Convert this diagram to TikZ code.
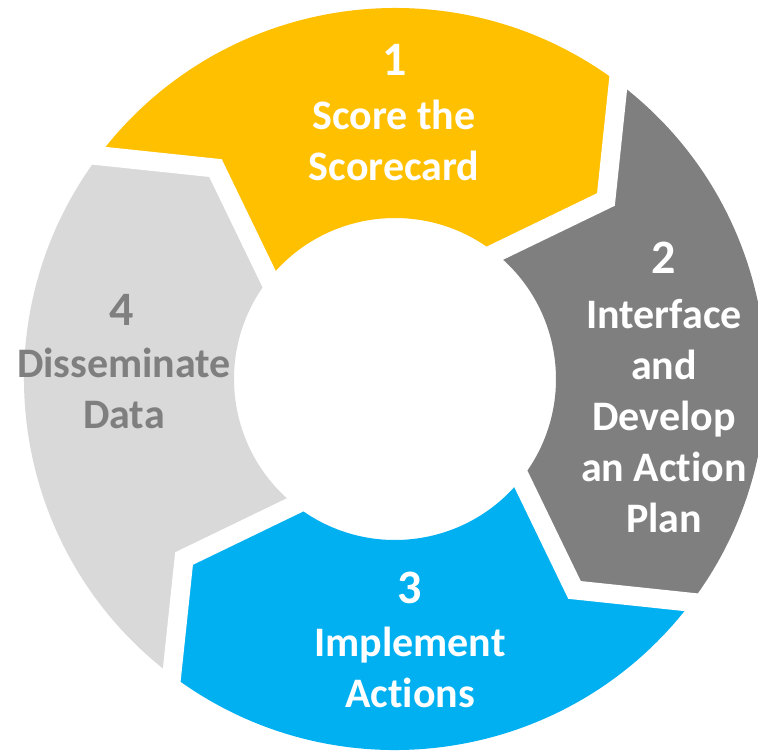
\documentclass[tikz,border=0pt]{standalone}
\usepackage{fontspec}
\setmainfont{Carlito}[RawFeature=-liga]
\usetikzlibrary{calc}
\definecolor{segyellow}{HTML}{FFC000}
\definecolor{segdark}{HTML}{7F7F7F}
\definecolor{segblue}{HTML}{00B0F0}
\definecolor{seglight}{HTML}{D9D9D9}
\begin{document}
\begin{tikzpicture}[x=1pt,y=1pt,
  gapline/.style={draw=white, line width=19pt, line join=miter},
  numlbl/.style={font=\bfseries\fontsize{48}{52}\selectfont, text=white, inner sep=0pt},
  txtlbl/.style={font=\bfseries\fontsize{42}{51}\selectfont, align=center, text=white, inner sep=0pt}]
\clip (0,0) rectangle (758,-750);
\fill[white] (0,0) rectangle (758,-750);
\begin{scope}[shift={(395,-379)}]
  \def\Ro{371}
  \def\Ri{161}
  \def\Rt{277}
  % each ring segment runs clockwise from its notched tail (angle \a) to its pointed head
  \foreach \a/\col in {143/segyellow, 53/segdark, -37/segblue, -127/seglight}{
    \pgfmathsetmacro{\h}{\a-90}
    \pgfmathsetmacro{\htip}{\h-12.6}
    \pgfmathsetmacro{\hin}{\h-1.5}
    \pgfmathsetmacro{\ttip}{\a-12.6}
    \pgfmathsetmacro{\tin}{\a-1.5}
    \fill[\col] (\a:\Ro) arc[start angle=\a, end angle=\h, radius=\Ro]
      -- (\htip:\Rt) -- (\hin:\Ri)
      arc[start angle=\hin, end angle=\tin, radius=\Ri]
      -- (\ttip:\Rt) -- cycle;
  }
  % white chevron gaps between neighbouring segments
  \foreach \a in {143, 53, -37, -127}{
    \pgfmathsetmacro{\tip}{\a-12.6}
    \pgfmathsetmacro{\inn}{\a-1.5}
    \coordinate (gt) at (\tip:\Rt);
    \coordinate (go) at (\a:\Ro);
    \coordinate (gi) at (\inn:\Ri);
    \draw[gapline] ($(gt)!1.3!(go)$) -- (gt) -- ($(gt)!1.3!(gi)$);
  }
\end{scope}
% labels
\node[numlbl] (n1) at (395,-60) {1};
\node[txtlbl] (t1) at (394,-140) {Score the\\Scorecard};
\node[numlbl] (n2) at (664,-258) {2};
\node[txtlbl] (t2) at (664,-416) {Interface\\and\\Develop\\an Action\\Plan};
\node[numlbl] (n3) at (410,-588) {3};
\node[txtlbl] (t3) at (410,-667) {Implement\\Actions};
\node[numlbl, text=segdark] (n4) at (122,-310) {4};
\node[txtlbl, text=segdark] (t4) at (124,-388) {Disseminate\\Data};
\end{tikzpicture}
\end{document}
